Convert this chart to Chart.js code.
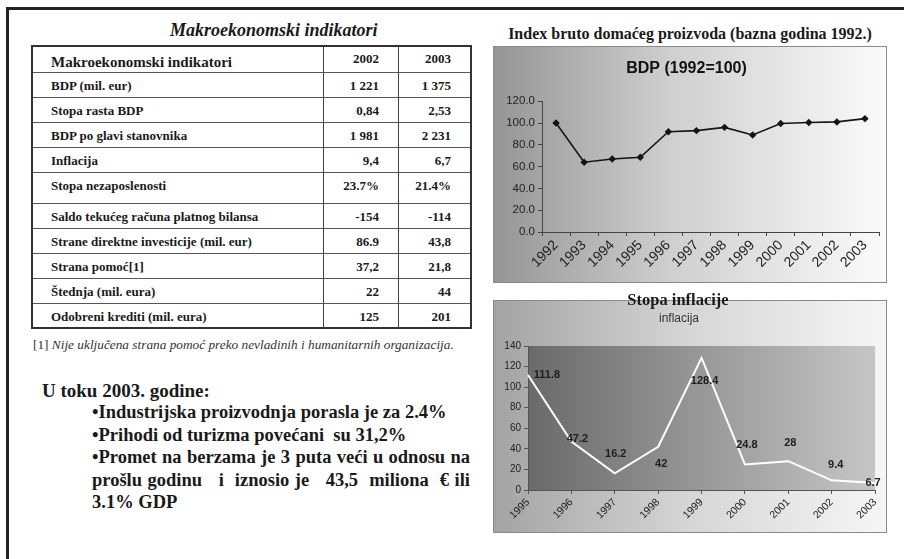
<!DOCTYPE html>
<html>
<head>
<meta charset="utf-8">
<script src="https://cdn.jsdelivr.net/npm/chart.js@4.4.1/dist/chart.umd.min.js"></script>
<style>
  body { margin: 0; width: 904px; height: 559px; background: #fff; position: relative; overflow: hidden;
         font-family: "Liberation Serif", "Times New Roman", serif; color: #1a1a1a; }
  .frame { position: absolute; left: 6px; top: 7px; width: 910px; height: 570px;
           border-left: 3px solid #222; border-top: 3px solid #222; }
  .abs { position: absolute; white-space: nowrap; }
  #tblTitle { left: 170px; top: 20px; font-size: 18px; font-weight: bold; font-style: italic; }
  table { position: absolute; left: 31px; top: 45px; width: 441px; border-collapse: collapse;
          border: 2px solid #333; font-family: inherit; color: inherit; }
  td { border-top: 1px solid #555; font-weight: bold; font-size: 13px; line-height: 15px;
       vertical-align: top; padding: 5px 0 0 0; }
  td.c1 { width: 272px; padding-left: 18px; border-right: 1px solid #444; }
  td.c2 { width: 55px; padding-right: 19px; text-align: right; border-right: 1px solid #444; }
  td.c3 { padding-right: 19px; text-align: right; }
  tr.hdr td.c1 { font-size: 15px; line-height: 18px; padding-top: 6px; }
  tr.hdr td.c2, tr.hdr td.c3 { font-size: 13px; padding-top: 4px; }
  #note { left: 33px; top: 337px; font-size: 13.3px; color: #333; }
  #uToku { left: 42px; top: 380px; font-size: 19px; font-weight: bold; }
  #bullets { position: absolute; left: 92px; top: 401px; width: 378px; font-size: 18.5px; font-weight: bold;
             line-height: 22.5px; }
  #bullets div { white-space: nowrap; }
  #bullets div.j { white-space: normal; text-align: justify; text-align-last: justify; }
  #t1 { left: 493px; top: 25px; width: 394px; text-align: center; font-size: 16px; font-weight: bold; }
  #t2 { left: 493px; top: 290px; width: 370px; text-align: center; font-size: 16.5px; font-weight: bold; }
  #sub2 { left: 659px; top: 311px; font-family: "Liberation Sans", Arial, sans-serif; font-size: 12px; color: #333; }
  .box { position: absolute; border: 1px solid #8a8a8a; }
  #box1 { left: 493px; top: 46px; width: 392px; height: 235px;
          background: linear-gradient(to right, #959595, #cfcfcf 45%, #fbfbfb); }
  #box2 { left: 493px; top: 300px; width: 392px; height: 231px;
          background: linear-gradient(to right, #a3a3a3, #d6d6d6 50%, #f6f6f6); }
</style>
</head>
<body>
<div class="frame"></div>
<div class="abs" id="tblTitle">Makroekonomski indikatori</div>
<table id="tbl"></table>
<div class="abs" id="note">[1] <i>Nije uključena strana pomoć preko nevladinih i humanitarnih organizacija.</i></div>
<div class="abs" id="uToku">U toku 2003. godine:</div>
<div id="bullets"></div>

<div class="abs" id="t1">Index bruto domaćeg proizvoda (bazna godina 1992.)</div>
<div class="box" id="box1"><canvas id="c1" width="392" height="235"></canvas></div>
<div class="box" id="box2"><canvas id="c2" width="392" height="231"></canvas></div>
<div class="abs" id="t2">Stopa inflacije</div>
<div class="abs" id="sub2">inflacija</div>

<script>
// table
const tableYears = ["2002", "2003"];
const tableNames = ["BDP (mil. eur)", "Stopa rasta BDP", "BDP po glavi stanovnika", "Inflacija",
  "Stopa nezaposlenosti", "Saldo tekućeg računa platnog bilansa", "Strane direktne investicije (mil. eur)",
  "Strana pomoć[1]", "Štednja (mil. eura)", "Odobreni krediti (mil. eura)"];
const table2002 = ["1 221", "0,84", "1 981", "9,4", "23.7%", "-154", "86.9", "37,2", "22", "125"];
const table2003 = ["1 375", "2,53", "2 231", "6,7", "21.4%", "-114", "43,8", "21,8", "44", "201"];

// text lines, as broken in the slide
const bulletLines = [
  "•Industrijska proizvodnja porasla je za 2.4%",
  "•Prihodi od turizma povećani&nbsp; su 31,2%",
  "•Promet na berzama je 3 puta veći u odnosu na",
  "prošlu godinu &nbsp; i &nbsp;iznosio je &nbsp; 43,5 &nbsp;miliona &nbsp;€ ili",
  "3.1% GDP"
];
const justified = [false, false, true, true, false];

// BDP index chart
const bdpYears = ["1992", "1993", "1994", "1995", "1996", "1997", "1998", "1999", "2000", "2001", "2002", "2003"];
const bdpIndex = [100, 64, 67, 68.5, 92, 93, 96, 89, 99.5, 100.5, 101, 104];

// inflation chart
const inflYears = ["1995", "1996", "1997", "1998", "1999", "2000", "2001", "2002", "2003"];
const inflValues = [111.8, 47.2, 16.2, 42, 128.4, 24.8, 28, 9.4, 6.7];

// build table
let rowH = [26, 25, 25, 25, 25, 31, 25, 25, 25, 25, 25];
let html = `<tr class="hdr" style="height:${rowH[0]}px"><td class="c1">Makroekonomski indikatori</td><td class="c2">${tableYears[0]}</td><td class="c3">${tableYears[1]}</td></tr>`;
tableNames.forEach((n, i) => {
  html += `<tr style="height:${rowH[i + 1]}px"><td class="c1">${n}</td><td class="c2">${table2002[i]}</td><td class="c3">${table2003[i]}</td></tr>`;
});
document.getElementById("tbl").innerHTML = html;
document.getElementById("bullets").innerHTML =
  bulletLines.map((l, i) => `<div class="${justified[i] ? "j" : ""}">${l}</div>`).join("");

Chart.defaults.font.family = "'Liberation Sans', Arial, sans-serif";
Chart.defaults.color = "#222";

new Chart(document.getElementById("c1"), {
  type: "line",
  data: {
    labels: bdpYears,
    datasets: [{
      data: bdpIndex,
      borderColor: "#151515",
      backgroundColor: "#151515",
      borderWidth: 1.6,
      pointStyle: "rectRot",
      pointRadius: 2.6,
      tension: 0
    }]
  },
  options: {
    responsive: false,
    animation: false,
    layout: { padding: { left: 0, right: 7, top: 0, bottom: 0 } },
    plugins: {
      legend: { display: false },
      tooltip: { enabled: false },
      title: {
        display: true,
        text: "BDP (1992=100)",
        color: "#111",
        font: { size: 16, weight: "bold" },
        padding: { top: 12, bottom: 23 }
      }
    },
    scales: {
      x: {
        offset: true,
        afterFit: (s) => { s.height = 50; },
        grid: { offset: true, drawOnChartArea: false, tickLength: 4, color: "#444" },
        border: { color: "#444" },
        ticks: { minRotation: 45, maxRotation: 45, font: { size: 14 }, color: "#222", padding: 1 }
      },
      y: {
        min: 0,
        max: 120,
        afterFit: (s) => { s.width = 48; },
        grid: { drawOnChartArea: false, tickLength: 4, color: "#444" },
        border: { color: "#444" },
        ticks: { stepSize: 20, font: { size: 11.5 }, color: "#222", callback: (v) => v.toFixed(1) }
      }
    }
  }
});

// shaded plot area + value labels for the inflation chart
const labelShift = [[19, 0], [6, -2], [1, -19], [3, 17], [3, 23], [2, -20], [2, -18], [4, -15], [-2, 0]];
const inflPlugin = {
  id: "inflPlugin",
  beforeDraw(chart) {
    const a = chart.chartArea, ctx = chart.ctx;
    let g = ctx.createLinearGradient(a.left, 0, a.right, 0);
    g.addColorStop(0, "#6a6a6a");
    g.addColorStop(1, "#c6c6c6");
    ctx.save();
    ctx.fillStyle = g;
    ctx.fillRect(a.left, a.top, a.right - a.left, a.bottom - a.top);
    ctx.restore();
  },
  afterDatasetsDraw(chart) {
    const ctx = chart.ctx;
    const pts = chart.getDatasetMeta(0).data;
    ctx.save();
    ctx.font = "bold 11px 'Liberation Sans', Arial, sans-serif";
    ctx.fillStyle = "#1e1e1e";
    ctx.textAlign = "center";
    ctx.textBaseline = "middle";
    pts.forEach((p, i) => {
      ctx.fillText(String(inflValues[i]), p.x + labelShift[i][0], p.y + labelShift[i][1]);
    });
    ctx.restore();
  }
};

new Chart(document.getElementById("c2"), {
  type: "line",
  data: {
    labels: inflYears,
    datasets: [{
      data: inflValues,
      borderColor: "#ffffff",
      borderWidth: 2,
      pointRadius: 0,
      tension: 0
    }]
  },
  options: {
    responsive: false,
    animation: false,
    layout: { padding: { left: 0, right: 8, top: 45, bottom: 0 } },
    plugins: {
      legend: { display: false },
      tooltip: { enabled: false },
      title: { display: false }
    },
    scales: {
      x: {
        offset: false,
        afterFit: (s) => { s.height = 42; },
        grid: { drawOnChartArea: false, tickLength: 4, color: "#555" },
        border: { color: "#555" },
        ticks: { minRotation: 45, maxRotation: 45, font: { size: 10.5 }, color: "#222", padding: 2 }
      },
      y: {
        min: 0,
        max: 140,
        afterFit: (s) => { s.width = 34; },
        grid: { drawOnChartArea: false, tickLength: 4, color: "#555" },
        border: { color: "#555" },
        ticks: { stepSize: 20, font: { size: 10 }, color: "#222" }
      }
    }
  },
  plugins: [inflPlugin]
});
</script>
</body>
</html>
